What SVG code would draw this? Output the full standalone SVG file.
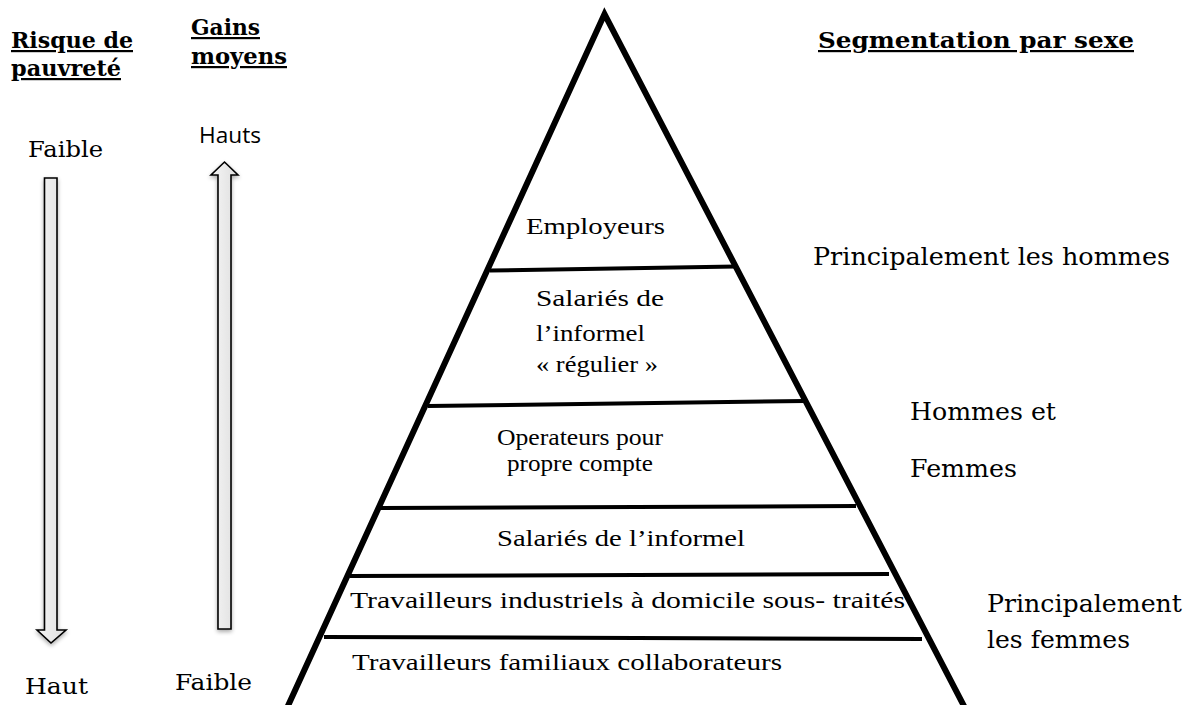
<svg xmlns="http://www.w3.org/2000/svg" width="1185" height="705" viewBox="0 0 1185 705">
<defs>
<style>
.t{font-family:"DejaVu Serif","Liberation Serif",serif;fill:#000}
.p{font-family:"Liberation Serif","DejaVu Serif",serif;fill:#000}
.b{font-weight:bold;text-decoration:underline}
.s{font-family:"Open Sans","Liberation Sans",sans-serif;fill:#000}
.arrow{fill:url(#ag);stroke:#000;stroke-width:1.6;filter:url(#sh)}
.div{stroke:#000;stroke-width:4;fill:none}
</style>
<linearGradient id="ag" x1="0" y1="0" x2="1" y2="0">
<stop offset="0" stop-color="#f6f6f6"/><stop offset="1" stop-color="#dedede"/>
</linearGradient>
<filter id="sh" x="-50%" y="-5%" width="200%" height="110%">
<feGaussianBlur in="SourceAlpha" stdDeviation="2"/><feOffset dx="0" dy="2"/>
<feComponentTransfer><feFuncA type="linear" slope="0.35"/></feComponentTransfer>
<feMerge><feMergeNode/><feMergeNode in="SourceGraphic"/></feMerge>
</filter>
</defs>
<rect width="1185" height="705" fill="#fff"/>

<g id="headers">
<text class="t b" x="11" y="48" font-size="22" textLength="122" lengthAdjust="spacingAndGlyphs">Risque de</text>
<text class="t b" x="11" y="76" font-size="22" textLength="110" lengthAdjust="spacingAndGlyphs">pauvreté</text>
<text class="t b" x="191" y="35" font-size="22" textLength="69" lengthAdjust="spacingAndGlyphs">Gains</text>
<text class="t b" x="191" y="64" font-size="22" textLength="96" lengthAdjust="spacingAndGlyphs">moyens</text>
<text class="t b" x="818" y="48" font-size="22" textLength="316" lengthAdjust="spacingAndGlyphs">Segmentation par sexe</text>
</g>

<g id="risk-scale">
<text class="t" x="28" y="157" font-size="23" textLength="75" lengthAdjust="spacingAndGlyphs">Faible</text>
<path class="arrow" d="M44.5,178 H57 V630 H66 L51,643 L37,630 H44.5 Z"/>
<text class="t" x="25" y="694" font-size="23" textLength="63" lengthAdjust="spacingAndGlyphs">Haut</text>
</g>

<g id="gains-scale">
<text class="s" x="199" y="143" font-size="21" textLength="62" lengthAdjust="spacingAndGlyphs">Hauts</text>
<path class="arrow" d="M218,629 V175 H211 L224.5,162 L238,175 H231 V629 Z"/>
<text class="t" x="175" y="690" font-size="23" textLength="77" lengthAdjust="spacingAndGlyphs">Faible</text>
</g>

<g id="pyramid">
<path d="M287,708 L604.5,14 L965,708" fill="none" stroke="#000" stroke-width="6" stroke-linejoin="miter" stroke-miterlimit="20"/>
</g>

<g id="connectors">
<line class="div" x1="490" y1="270.5" x2="736" y2="266.5"/>
<line class="div" x1="428" y1="406" x2="805" y2="401"/>
<line class="div" x1="381" y1="508" x2="856" y2="506"/>
<line class="div" x1="350" y1="576" x2="889" y2="574"/>
<line class="div" x1="324" y1="637" x2="922" y2="639"/>
</g>

<g id="tier-employeurs">
<text class="p" x="526" y="234" font-size="24" textLength="139" lengthAdjust="spacingAndGlyphs">Employeurs</text>
</g>
<g id="tier-salaries-reguliers">
<text class="p" x="536" y="306" font-size="24" textLength="128" lengthAdjust="spacingAndGlyphs">Salariés de</text>
<text class="p" x="536" y="341" font-size="24" textLength="109" lengthAdjust="spacingAndGlyphs">l’informel</text>
<text class="p" x="536" y="372" font-size="24" textLength="122" lengthAdjust="spacingAndGlyphs">« régulier »</text>
</g>
<g id="tier-operateurs">
<text class="p" x="580" y="445" font-size="24" text-anchor="middle" textLength="166" lengthAdjust="spacingAndGlyphs">Operateurs pour</text>
<text class="p" x="580" y="471" font-size="24" text-anchor="middle" textLength="146" lengthAdjust="spacingAndGlyphs">propre compte</text>
</g>
<g id="tier-salaries">
<text class="p" x="497" y="546" font-size="24" textLength="248" lengthAdjust="spacingAndGlyphs">Salariés de l’informel</text>
</g>
<g id="tier-industriels">
<text class="p" x="350" y="608" font-size="24" textLength="555" lengthAdjust="spacingAndGlyphs">Travailleurs industriels à domicile sous- traités</text>
</g>
<g id="tier-familiaux">
<text class="p" x="352" y="670" font-size="24" textLength="430" lengthAdjust="spacingAndGlyphs">Travailleurs familiaux collaborateurs</text>
</g>

<g id="sex-labels">
<text class="t" x="813" y="265" font-size="23.5" textLength="357" lengthAdjust="spacingAndGlyphs">Principalement les hommes</text>
<text class="t" x="910" y="420" font-size="23.5" textLength="146" lengthAdjust="spacingAndGlyphs">Hommes et</text>
<text class="t" x="910" y="477" font-size="23.5" textLength="107" lengthAdjust="spacingAndGlyphs">Femmes</text>
<text class="t" x="987" y="612" font-size="23.5" textLength="195" lengthAdjust="spacingAndGlyphs">Principalement</text>
<text class="t" x="987" y="648" font-size="23.5" textLength="143" lengthAdjust="spacingAndGlyphs">les femmes</text>
</g>
</svg>
